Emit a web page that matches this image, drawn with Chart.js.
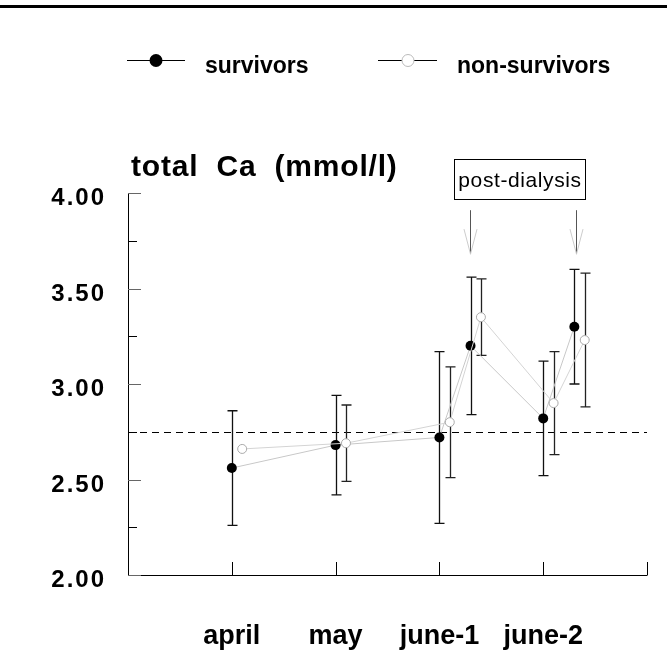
<!DOCTYPE html>
<html>
<head>
<meta charset="utf-8">
<script src="https://cdn.jsdelivr.net/npm/chart.js@4/dist/chart.umd.min.js"></script>
<style>
	body {margin: 0; background: #fff;}
	canvas {display: block;}
</style>
</head>
<body>
<canvas id="calcium" width="667" height="659"></canvas>
<script>
const categories = ['april', 'may', 'june-1', 'june-2']
const categoryX = [1, 2, 3, 4]
const survivorX = [1, 2, 3, 3.3, 4, 4.3]
const survivorMean = [2.56, 2.68, 2.72, 3.20, 2.82, 3.30]
const survivorSD = [0.30, 0.26, 0.45, 0.36, 0.30, 0.30]
const nonSurvivorX = [1.1, 2.1, 3.1, 3.4, 4.1, 4.4]
const nonSurvivorMean = [2.66, 2.69, 2.80, 3.35, 2.90, 3.23]
const nonSurvivorSD = [null, 0.20, 0.29, 0.20, 0.27, 0.35]
const yTicks = [2, 2.5, 3, 3.5, 4]
const yMinorTicks = [2.25, 2.75, 3.25, 3.75]
const normalLevel = 2.75
const dialysisX = [3.29, 4.32]

function points(xs, ys) {
	return xs.map((x, i) => ({x, y: ys[i]}))
}

const decorations = {
	id: 'decorations',
	beforeDatasetsDraw(chart) {
		const {ctx} = chart
		const x = chart.scales.x
		const y = chart.scales.y
		const left = x.getPixelForValue(0)
		const right = x.getPixelForValue(5)
		const bottom = y.getPixelForValue(2)
		const top = y.getPixelForValue(4)
		ctx.save()
		// frame line at the very top
		ctx.fillStyle = '#000'
		ctx.fillRect(0, 5, 667, 3)
		// axes
		ctx.strokeStyle = '#000'
		ctx.lineWidth = 1
		ctx.beginPath()
		ctx.moveTo(left + 0.5, top)
		ctx.lineTo(left + 0.5, bottom + 0.5)
		ctx.lineTo(right + 0.5, bottom + 0.5)
		ctx.stroke()
		// y ticks (inside)
		ctx.strokeStyle = '#666'
		for (const v of yTicks) {
			const py = Math.round(y.getPixelForValue(v)) + 0.5
			ctx.beginPath()
			ctx.moveTo(left, py)
			ctx.lineTo(left + 13, py)
			ctx.stroke()
		}
		ctx.strokeStyle = '#000'
		for (const v of yMinorTicks) {
			const py = Math.round(y.getPixelForValue(v)) + 0.5
			ctx.beginPath()
			ctx.moveTo(left, py)
			ctx.lineTo(left + 9, py)
			ctx.stroke()
		}
		// x ticks (inside)
		for (const v of [...categoryX, 5]) {
			const px = Math.round(x.getPixelForValue(v)) + 0.5
			ctx.beginPath()
			ctx.moveTo(px, bottom)
			ctx.lineTo(px, bottom - 13)
			ctx.stroke()
		}
		// reference level
		ctx.setLineDash([7, 5])
		const ny = Math.round(y.getPixelForValue(normalLevel)) + 0.5
		ctx.beginPath()
		ctx.moveTo(left, ny)
		ctx.lineTo(right, ny)
		ctx.stroke()
		ctx.setLineDash([])
		// error bars
		const drawBars = (xs, means, sds, color) => {
			ctx.strokeStyle = color
			ctx.lineWidth = 1.3
			xs.forEach((xv, i) => {
				if (sds[i] == null) return
				const px = Math.round(x.getPixelForValue(xv)) + 0.5
				const hi = y.getPixelForValue(means[i] + sds[i])
				const lo = y.getPixelForValue(means[i] - sds[i])
				ctx.beginPath()
				ctx.moveTo(px, hi)
				ctx.lineTo(px, lo)
				ctx.moveTo(px - 5, hi)
				ctx.lineTo(px + 5, hi)
				ctx.moveTo(px - 5, lo)
				ctx.lineTo(px + 5, lo)
				ctx.stroke()
			})
		}
		drawBars(survivorX, survivorMean, survivorSD, '#111')
		drawBars(nonSurvivorX, nonSurvivorMean, nonSurvivorSD, '#222')
		// y labels
		ctx.fillStyle = '#000'
		ctx.font = 'bold 24px "Liberation Sans", Arial, sans-serif'
		ctx.letterSpacing = '2px'
		ctx.textAlign = 'right'
		ctx.textBaseline = 'alphabetic'
		for (const v of yTicks) {
			ctx.fillText(v.toFixed(2), 106, y.getPixelForValue(v) + 12)
		}
		// x labels
		ctx.letterSpacing = '0px'
		ctx.font = 'bold 27px "Liberation Sans", Arial, sans-serif'
		ctx.textAlign = 'center'
		categories.forEach((label, i) => {
			ctx.fillText(label, x.getPixelForValue(categoryX[i]), 644)
		})
		// title
		ctx.textAlign = 'left'
		ctx.font = 'bold 30px "Liberation Sans", Arial, sans-serif'
		ctx.letterSpacing = '0.8px'
		ctx.wordSpacing = '9px'
		ctx.fillText('total Ca (mmol/l)', 131, 176)
		ctx.wordSpacing = '0px'
		// legend
		ctx.letterSpacing = '0px'
		ctx.font = 'bold 23px "Liberation Sans", Arial, sans-serif'
		ctx.strokeStyle = '#000'
		ctx.lineWidth = 1
		ctx.beginPath()
		ctx.moveTo(127, 60.5)
		ctx.lineTo(185, 60.5)
		ctx.moveTo(378, 60.5)
		ctx.lineTo(437, 60.5)
		ctx.stroke()
		ctx.beginPath()
		ctx.arc(156, 60.5, 6.5, 0, Math.PI * 2)
		ctx.fill()
		ctx.fillStyle = '#fff'
		ctx.strokeStyle = '#bbb'
		ctx.beginPath()
		ctx.arc(408, 60.5, 6, 0, Math.PI * 2)
		ctx.fill()
		ctx.stroke()
		ctx.fillStyle = '#000'
		ctx.fillText('survivors', 205, 73)
		ctx.fillText('non-survivors', 457, 73)
		// post-dialysis box and arrows
		ctx.strokeStyle = '#000'
		ctx.strokeRect(454.5, 159.5, 131, 40)
		ctx.font = '21px "Liberation Sans", Arial, sans-serif'
		ctx.letterSpacing = '0.6px'
		ctx.textAlign = 'center'
		ctx.fillText('post-dialysis', 520, 187)
		ctx.letterSpacing = '0px'
		for (const dv of dialysisX) {
			const px = Math.round(x.getPixelForValue(dv)) + 0.5
			const y0 = y.getPixelForValue(3.91)
			const y1 = y.getPixelForValue(3.68)
			ctx.strokeStyle = '#555'
			ctx.beginPath()
			ctx.moveTo(px, y0)
			ctx.lineTo(px, y1)
			ctx.stroke()
			ctx.strokeStyle = '#ccc'
			ctx.beginPath()
			ctx.moveTo(px - 6.5, y1 - 25)
			ctx.lineTo(px, y1)
			ctx.lineTo(px + 6.5, y1 - 25)
			ctx.stroke()
		}
		ctx.restore()
	},
}

new Chart(document.getElementById('calcium'), {
	type: 'scatter',
	data: {
		datasets: [{
			label: 'non-survivors',
			data: points(nonSurvivorX, nonSurvivorMean),
			showLine: true,
			borderColor: '#d4d4d4',
			borderWidth: 1,
			pointRadius: 4.5,
			pointBackgroundColor: '#fff',
			pointBorderColor: '#aaa',
			pointBorderWidth: 1,
			clip: false,
		}, {
			label: 'survivors',
			data: points(survivorX, survivorMean),
			showLine: true,
			borderColor: '#c8c8c8',
			borderWidth: 1,
			pointRadius: 5,
			pointBackgroundColor: '#000',
			pointBorderColor: '#000',
			pointBorderWidth: 0,
			clip: false,
		}],
	},
	options: {
		responsive: false,
		devicePixelRatio: 1,
		animation: false,
		layout: {padding: {left: 128, right: 20, top: 193, bottom: 84}},
		scales: {
			x: {type: 'linear', min: 0, max: 5, display: false},
			y: {type: 'linear', min: 2, max: 4, display: false},
		},
		plugins: {
			legend: {display: false},
			tooltip: {enabled: false},
		},
	},
	plugins: [decorations],
})
</script>
</body>
</html>
